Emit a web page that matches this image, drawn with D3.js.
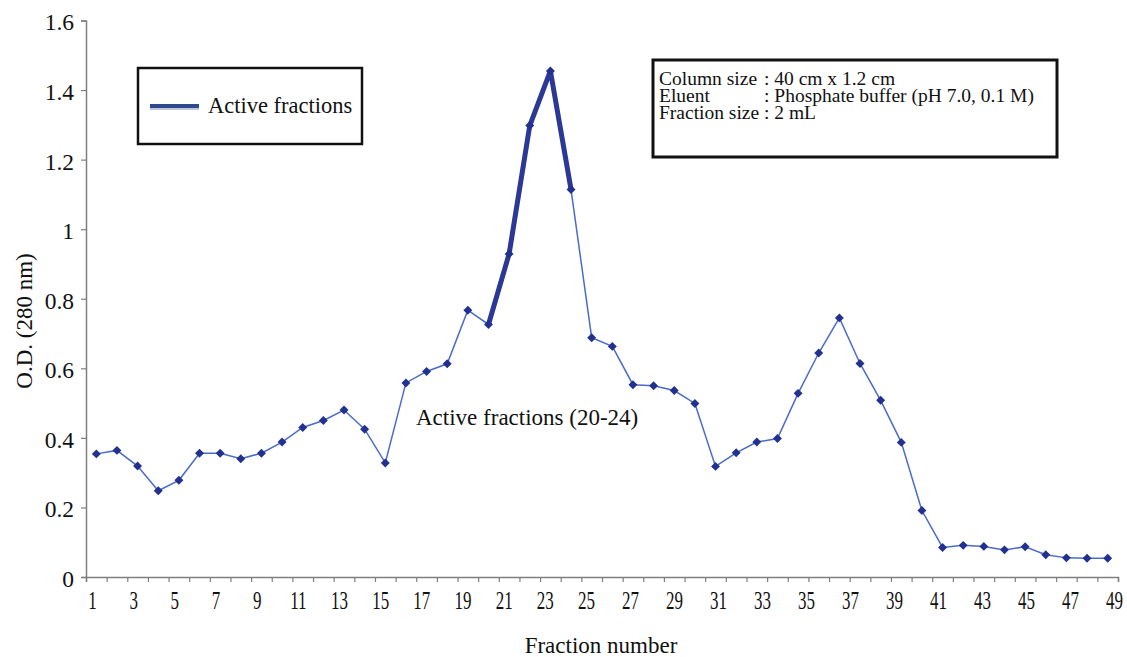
<!DOCTYPE html>
<html>
<head>
<meta charset="utf-8">
<script src="https://cdn.jsdelivr.net/npm/d3@7"></script>
<style>
  body { margin: 0; background: #fff; }
  svg { display: block; font-family: "Liberation Serif", "Times New Roman", serif; }
</style>
</head>
<body>
<div id="chart"></div>
<script>
// fraction numbers and O.D. (280 nm)
var fractions = [1, 2, 3, 4, 5, 6, 7, 8, 9, 10,
                 11, 12, 13, 14, 15, 16, 17, 18, 19, 20,
                 21, 22, 23, 24, 25, 26, 27, 28, 29, 30,
                 31, 32, 33, 34, 35, 36, 37, 38, 39, 40,
                 41, 42, 43, 44, 45, 46, 47, 48, 49, 50];
var odValues = [0.354, 0.364, 0.319, 0.248, 0.278, 0.356, 0.356, 0.340, 0.356, 0.388,
                0.430, 0.450, 0.480, 0.425, 0.328, 0.558, 0.591, 0.613, 0.767, 0.726,
                0.929, 1.298, 1.455, 1.114, 0.688, 0.663, 0.553, 0.550, 0.536, 0.499,
                0.318, 0.357, 0.388, 0.398, 0.528, 0.644, 0.745, 0.614, 0.508, 0.387,
                0.191, 0.085, 0.091, 0.088, 0.078, 0.087, 0.064, 0.055, 0.054, 0.054];
var activeFractions = [20, 21, 22, 23, 24];
var xTickLabels = [1, 3, 5, 7, 9, 11, 13, 15, 17, 19, 21, 23, 25,
                   27, 29, 31, 33, 35, 37, 39, 41, 43, 45, 47, 49];
var yTicks = [0, 0.2, 0.4, 0.6, 0.8, 1, 1.2, 1.4, 1.6];
var infoLabels = ["Column size", "Eluent", "Fraction size"];
var infoValues = [": 40 cm x 1.2 cm", ": Phosphate buffer (pH 7.0, 0.1 M)", ": 2 mL"];

var W = 1127, H = 657;
var plotLeft = 86, plotRight = 1118, plotTop = 20.5, plotBottom = 577;

var svg = d3.select("#chart").append("svg")
    .attr("width", W)
    .attr("height", H);

var data = fractions.map(function(f, i){ return {f: f, v: odValues[i]}; });

// one slot per fraction, points in the middle of each slot
var x = d3.scaleLinear()
    .domain([0.5, fractions.length + 0.5])
    .range([plotLeft, plotRight]);
var y = d3.scaleLinear()
    .domain([0, 1.6])
    .range([plotBottom, plotTop]);
// the printed tick labels drift from the slot centres in the source figure
var xLabel = d3.scaleLinear()
    .domain([1, 25, 49])
    .range([92, 586, 1114]);

// y axis
var yAxis = svg.append("g")
    .attr("transform", "translate(" + plotLeft + ",0)")
    .call(d3.axisLeft(y).tickValues(yTicks).tickSize(5).tickPadding(7)
        .tickFormat(function(d){ return d3.format("~g")(d); }));
yAxis.select(".domain").attr("stroke", "#7f7f7f").attr("stroke-width", 1.5);
yAxis.selectAll(".tick line").attr("stroke", "#7f7f7f").attr("stroke-width", 1.2);
yAxis.selectAll(".tick text")
    .attr("font-family", "Liberation Serif")
    .attr("font-size", 23.5)
    .attr("fill", "#111")
    .attr("dy", "0.4em");

// x axis: marks between fractions
var xAxis = svg.append("g")
    .attr("transform", "translate(0," + plotBottom + ")")
    .call(d3.axisBottom(x)
        .tickValues(fractions.map(function(f){ return f - 0.5; }).concat([fractions.length + 0.5]))
        .tickSize(5)
        .tickFormat(""));
xAxis.select(".domain").attr("stroke", "#7f7f7f").attr("stroke-width", 1.5);
xAxis.selectAll(".tick line").attr("stroke", "#7f7f7f").attr("stroke-width", 1.2);

// x tick labels (narrow Times look)
var xLab = svg.append("g")
    .attr("transform", "translate(0," + plotBottom + ")")
    .call(d3.axisBottom(xLabel).tickValues(xTickLabels).tickSize(0).tickFormat(d3.format("d")));
xLab.select(".domain").remove();
xLab.selectAll(".tick text")
    .attr("font-family", "Liberation Serif")
    .attr("font-size", 25)
    .attr("fill", "#111")
    .attr("y", 32)
    .attr("dy", 0)
    .attr("transform", "scale(0.68,1)");

// axis titles
svg.append("text")
    .attr("x", 601)
    .attr("y", 653)
    .attr("text-anchor", "middle")
    .attr("font-size", 23)
    .attr("fill", "#111")
    .text("Fraction number");
svg.append("text")
    .attr("transform", "translate(32,321) rotate(-90)")
    .attr("text-anchor", "middle")
    .attr("font-size", 23)
    .attr("fill", "#111")
    .text("O.D. (280 nm)");

// profile line
var line = d3.line()
    .x(function(d){ return x(d.f); })
    .y(function(d){ return y(d.v); });

svg.append("path")
    .datum(data)
    .attr("d", line)
    .attr("fill", "none")
    .attr("stroke", "#4a6cc8")
    .attr("stroke-width", 1.5);

svg.append("path")
    .datum(data.filter(function(d){ return activeFractions.indexOf(d.f) >= 0; }))
    .attr("d", line)
    .attr("fill", "none")
    .attr("stroke", "#2b3896")
    .attr("stroke-width", 5)
    .attr("stroke-linejoin", "round");

var diamond = d3.symbol().type(d3.symbolSquare).size(40);
svg.append("g")
    .selectAll("path")
    .data(data)
    .join("path")
    .attr("d", diamond)
    .attr("transform", function(d){
        return "translate(" + x(d.f) + "," + y(d.v) + ") rotate(45)";
    })
    .attr("fill", "#22318f");

// annotation
svg.append("text")
    .attr("x", 416)
    .attr("y", 425)
    .attr("font-size", 23)
    .attr("fill", "#111")
    .text("Active fractions (20-24)");

// legend
var legend = svg.append("g");
legend.append("rect")
    .attr("x", 138).attr("y", 68)
    .attr("width", 224).attr("height", 76)
    .attr("fill", "#fff")
    .attr("stroke", "#111")
    .attr("stroke-width", 2.5);
legend.append("line")
    .attr("x1", 150).attr("x2", 199)
    .attr("y1", 107).attr("y2", 107)
    .attr("stroke", "#bfc6d6")
    .attr("stroke-width", 6);
legend.append("line")
    .attr("x1", 150).attr("x2", 199)
    .attr("y1", 106).attr("y2", 106)
    .attr("stroke", "#2c4a8c")
    .attr("stroke-width", 4);
legend.append("text")
    .attr("x", 208).attr("y", 113)
    .attr("font-size", 22.5)
    .attr("fill", "#111")
    .text("Active fractions");

// column conditions box
var info = svg.append("g");
info.append("rect")
    .attr("x", 653).attr("y", 60)
    .attr("width", 404).attr("height", 97)
    .attr("fill", "#fff")
    .attr("stroke", "#111")
    .attr("stroke-width", 3);
info.selectAll("text.k")
    .data(infoLabels)
    .join("text")
    .attr("class", "k")
    .attr("x", 659)
    .attr("y", function(d, i){ return 84.5 + i * 17; })
    .attr("font-size", 19.5)
    .attr("fill", "#111")
    .text(function(d){ return d; });
info.selectAll("text.v")
    .data(infoValues)
    .join("text")
    .attr("class", "v")
    .attr("x", 764)
    .attr("y", function(d, i){ return 84.5 + i * 17; })
    .attr("font-size", 19.5)
    .attr("fill", "#111")
    .text(function(d){ return d; });
</script>
</body>
</html>
